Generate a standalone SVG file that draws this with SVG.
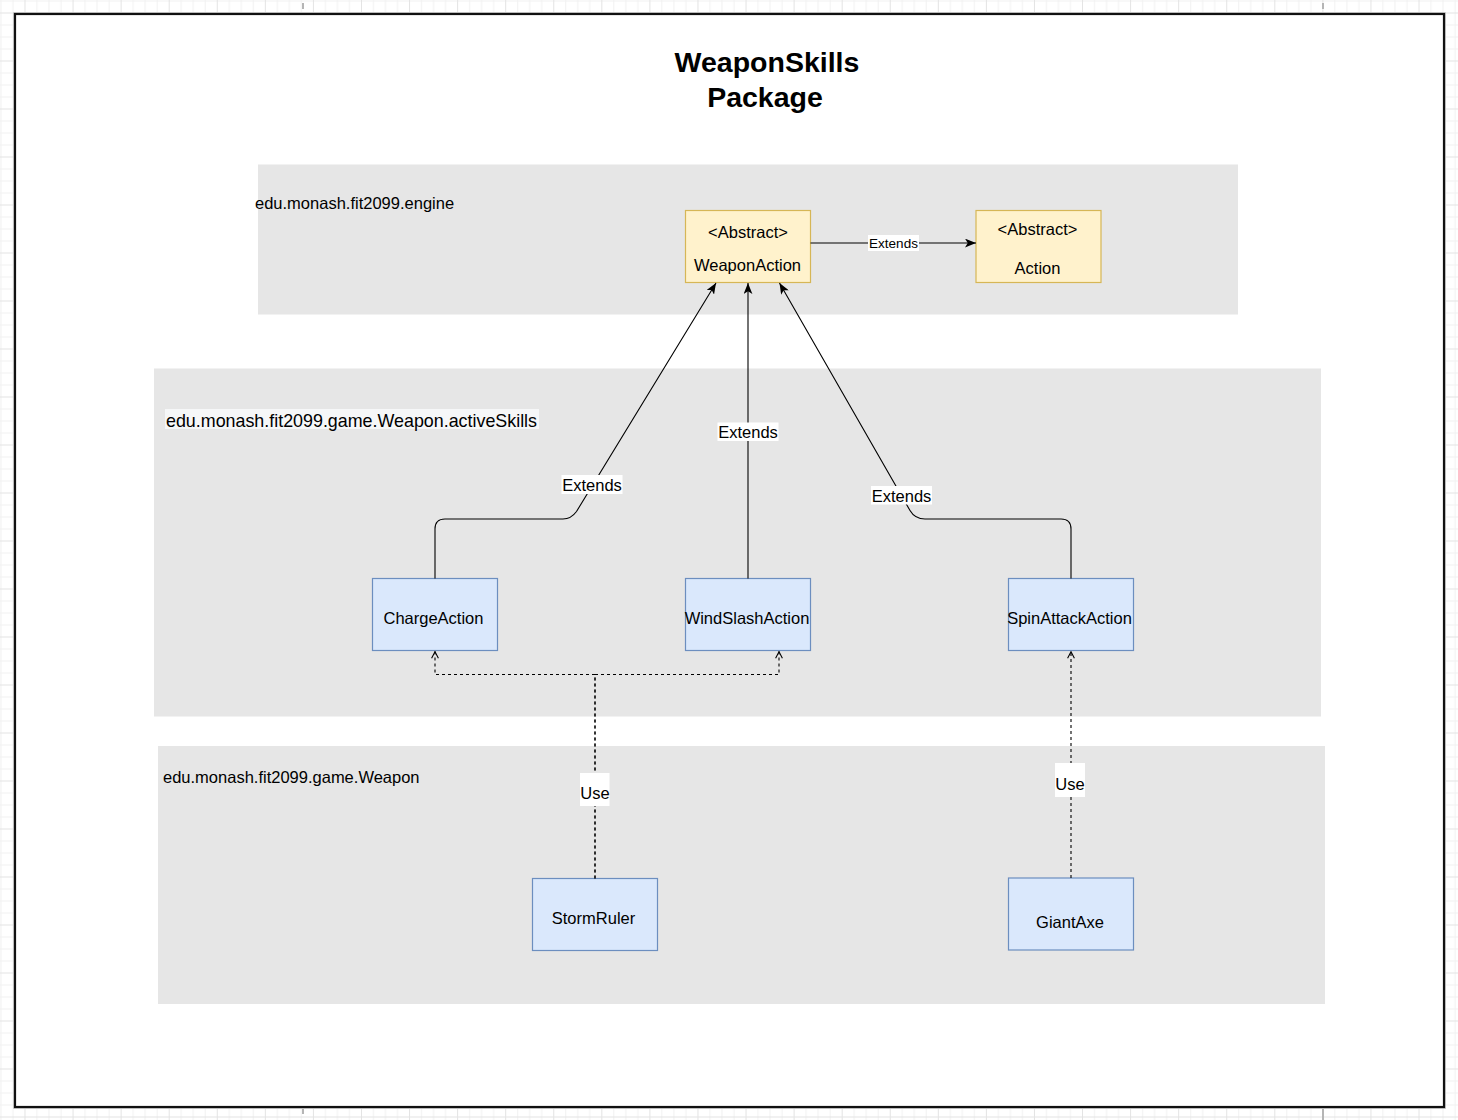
<svg xmlns="http://www.w3.org/2000/svg" width="1458" height="1120" viewBox="0 0 1458 1120">
  <style>
    text { font-family: "Liberation Sans", Arial, Helvetica, sans-serif; fill: #000; }
    .title { font-size: 28.5px; font-weight: bold; text-anchor: middle; }
    .pkg { fill: #e6e6e6; stroke: none; }
    .pkglbl { font-size: 16.5px; }
    .node { font-size: 16.5px; text-anchor: middle; }
    .abs { fill: #fff2cc; stroke: #d6b656; stroke-width: 1.2; }
    .cls { fill: #dae8fc; stroke: #6c8ebf; stroke-width: 1.2; }
    .edge { fill: none; stroke: #000; stroke-width: 1.1; }
    .dash { fill: none; stroke: #000; stroke-width: 1.1; stroke-dasharray: 3 3; }
    .lblbg { fill: #fff; stroke: none; }
    .elbl { font-size: 16.5px; text-anchor: middle; }
    .elbls { font-size: 13.5px; text-anchor: middle; }
  </style>
  <defs>
    <pattern id="grid" width="48.07" height="48" patternUnits="userSpaceOnUse" x="24.5" y="12.5">
      <path d="M12.5 0V48M24.5 0V48M36.5 0V48M0 12.5H48.07M0 24.5H48.07M0 36.5H48.07" stroke="#f1f1f1" stroke-width="1" fill="none"/>
      <path d="M0.5 0V48M0 0.5H48.07" stroke="#e3e3e3" stroke-width="1" fill="none"/>
    </pattern>
    <marker id="arr" viewBox="0 0 10 8" refX="10" refY="4" markerWidth="11" markerHeight="9" orient="auto" markerUnits="userSpaceOnUse">
      <path d="M0,0 L10,4 L0,8 L2.5,4 Z" fill="#000"/>
    </marker>
    <marker id="open" viewBox="0 0 8 8" refX="7.2" refY="4" markerWidth="8" markerHeight="8" orient="auto" markerUnits="userSpaceOnUse">
      <path d="M0.5,0.6 L7,4 L0.5,7.4" fill="none" stroke="#000" stroke-width="1.1"/>
    </marker>
  </defs>

  <!-- background grid -->
  <rect x="0" y="0" width="1458" height="1120" fill="#ffffff"/>
  <rect x="0" y="0" width="1458" height="1120" fill="url(#grid)"/>
  <g id="page-marks" stroke="#b5b5b5" stroke-width="2">
    <line x1="303" y1="3" x2="303" y2="9"/>
    <line x1="1323" y1="3" x2="1323" y2="9"/>
    <line x1="303" y1="1108" x2="303" y2="1114"/>
    <line x1="1323" y1="1108" x2="1323" y2="1120"/>
  </g>

  <!-- frame -->
  <g id="frame">
    <rect x="15" y="14" width="1429" height="1093" fill="#fff" stroke="#cfcfcf" stroke-width="4"/>
    <rect x="15" y="14" width="1429" height="1093" fill="#fff" stroke="#111" stroke-width="2.2"/>
    <text class="title" x="767" y="72">WeaponSkills</text>
    <text class="title" x="765" y="106.5">Package</text>
  </g>

  <!-- packages -->
  <g id="pkg-engine">
    <rect class="pkg" x="258" y="164.5" width="980" height="150"/>
    <text class="pkglbl" x="255" y="208.5">edu.monash.fit2099.engine</text>
  </g>
  <g id="pkg-activeSkills">
    <rect class="pkg" x="154" y="368.5" width="1167" height="348"/>
    <rect x="165" y="409" width="374" height="20" fill="#f6f7f8"/>
    <text class="pkglbl" x="166" y="427" style="font-size:17.8px" textLength="371" lengthAdjust="spacingAndGlyphs">edu.monash.fit2099.game.Weapon.activeSkills</text>
  </g>
  <g id="pkg-weapon">
    <rect class="pkg" x="158" y="746" width="1167" height="258"/>
    <text class="pkglbl" x="163" y="783">edu.monash.fit2099.game.Weapon</text>
  </g>

  <!-- nodes -->
  <g id="WeaponAction">
    <rect class="abs" x="685.5" y="210.5" width="125" height="72"/>
    <text class="node" x="748" y="238">&lt;Abstract&gt;</text>
    <text class="node" x="747.5" y="271">WeaponAction</text>
  </g>
  <g id="Action">
    <rect class="abs" x="976" y="210.5" width="125" height="72"/>
    <text class="node" x="1037.5" y="235">&lt;Abstract&gt;</text>
    <text class="node" x="1037.5" y="274">Action</text>
  </g>
  <g id="ChargeAction">
    <rect class="cls" x="372.5" y="578.5" width="125" height="72"/>
    <text class="node" x="433.5" y="624">ChargeAction</text>
  </g>
  <g id="WindSlashAction">
    <rect class="cls" x="685.5" y="578.5" width="125" height="72"/>
    <text class="node" x="747" y="624">WindSlashAction</text>
  </g>
  <g id="SpinAttackAction">
    <rect class="cls" x="1008.5" y="578.5" width="125" height="72"/>
    <text class="node" x="1069.5" y="624">SpinAttackAction</text>
  </g>
  <g id="StormRuler">
    <rect class="cls" x="532.5" y="878.5" width="125" height="72"/>
    <text class="node" x="593.5" y="924">StormRuler</text>
  </g>
  <g id="GiantAxe">
    <rect class="cls" x="1008.5" y="878" width="125" height="72"/>
    <text class="node" x="1070" y="928">GiantAxe</text>
  </g>

  <!-- connectors -->
  <g id="connectors">
    <!-- WeaponAction extends Action -->
    <path class="edge" d="M810.5 243 H976" marker-end="url(#arr)"/>
    <rect class="lblbg" x="868" y="235" width="51" height="16"/>
    <text class="elbls" x="893.5" y="248">Extends</text>

    <!-- ChargeAction extends WeaponAction -->
    <path class="edge" d="M435 578.5 V529 Q435 519 445 519 H563 Q571 519 576.5 511.5 L716 283" marker-end="url(#arr)"/>
    <rect class="lblbg" x="561.5" y="475" width="61" height="19"/>
    <text class="elbl" x="592" y="490.5">Extends</text>

    <!-- WindSlashAction extends WeaponAction -->
    <path class="edge" d="M748 578.5 V283" marker-end="url(#arr)"/>
    <rect class="lblbg" x="717.5" y="422.5" width="61" height="18.5"/>
    <text class="elbl" x="748" y="438">Extends</text>

    <!-- SpinAttackAction extends WeaponAction -->
    <path class="edge" d="M1071 578.5 V529 Q1071 519 1061 519 H925 Q915 519 910 510.5 L779.5 283" marker-end="url(#arr)"/>
    <rect class="lblbg" x="871" y="486" width="61" height="18.5"/>
    <text class="elbl" x="901.5" y="501.5">Extends</text>

    <!-- StormRuler uses ChargeAction / WindSlashAction -->
    <path class="dash" d="M595 878.5 V674.5 H435 V651.5" marker-end="url(#open)"/>
    <path class="dash" d="M595 878.5 V674.5 H779 V651.5" marker-end="url(#open)"/>
    <rect class="lblbg" x="580" y="773" width="29.5" height="33"/>
    <text class="elbl" x="595" y="799">Use</text>

    <!-- GiantAxe uses SpinAttackAction -->
    <path class="dash" d="M1071 878 V651.5" marker-end="url(#open)"/>
    <rect class="lblbg" x="1055" y="763" width="30" height="34"/>
    <text class="elbl" x="1070" y="790">Use</text>
  </g>
</svg>
